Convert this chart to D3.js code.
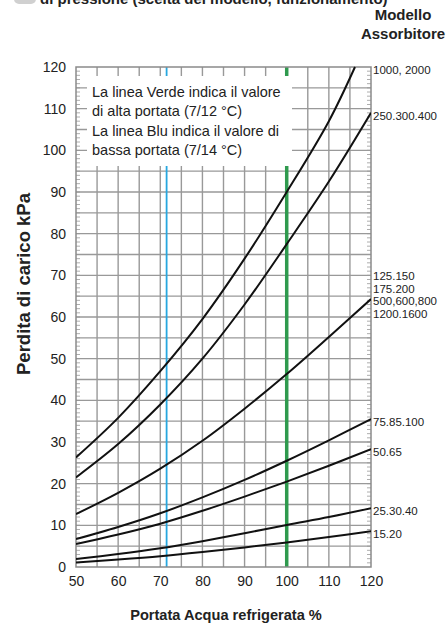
<!DOCTYPE html>
<html><head><meta charset="utf-8">
<script src="https://cdn.jsdelivr.net/npm/d3@7"></script>
<style>
html,body{margin:0;padding:0;background:#fff;}
svg{display:block;font-family:"Liberation Sans",Arial,sans-serif;}
</style></head>
<body><svg id="c" width="446" height="623"></svg>
<script>
// ---- data ----
const flow = [50, 60, 70, 80, 90, 100, 110, 120];
const c1000 = [26.3, 35.8, 47, 59.5, 74, 90, 107];       // ends at 120 kPa near 116%
const c1000End = [116.2, 120];
const c250 = [21.5, 29.5, 39, 50, 63, 77.5, 92.5, 109];
const c125 = [12.7, 17.8, 23.6, 30.3, 38, 46.3, 55.2, 64.3];
const c75 = [6.7, 9.6, 12.9, 16.7, 20.9, 25.5, 30.4, 35.5];
const c50 = [5.5, 7.8, 10.4, 13.5, 16.9, 20.5, 24.3, 28.3];
const c25 = [1.9, 3.1, 4.5, 6.2, 8.1, 10.1, 12.0, 14.1];
const c15 = [1.1, 1.8, 2.6, 3.6, 4.7, 5.9, 7.2, 8.6];
const seriesLabels = [["1000, 2000"], ["250.300.400"], ["125.150", "175.200", "500,600,800", "1200.1600"], ["75.85.100"], ["50.65"], ["25.30.40"], ["15.20"]];
const xTicks = [50, 60, 70, 80, 90, 100, 110, 120];
const yTicks = [0, 10, 20, 30, 40, 50, 60, 70, 80, 90, 100, 110, 120];
const blueFlow = 71.5, greenFlow = 100;
const legendLines = ["La linea Verde indica il valore", "di alta portata (7/12 °C)", "La linea Blu indica il valore di", "bassa portata (7/14 °C)"];
const titleTop = "di pressione (scelta del modello, funzionamento)";
const headerLines = ["Modello", "Assorbitore"];
const yTitle = "Perdita di carico kPa";
const xTitle = "Portata Acqua refrigerata %";

// ---- chart ----
const svg = d3.select("#c");
const L = 76, R = 371, T = 67, B = 567;
const x = d3.scaleLinear().domain([50, 120]).range([L, R]);
const y = d3.scaleLinear().domain([0, 120]).range([B, T]);

// top cut title
svg.append("rect").attr("x", 14).attr("y", -8).attr("width", 22).attr("height", 12).attr("rx", 5).attr("fill", "#d0d0d0");
svg.append("text").attr("x", 40).attr("y", 3.5).attr("font-size", 15).attr("font-weight", "bold").attr("fill", "#222").text(titleTop);
headerLines.forEach((t, i) => svg.append("text").attr("x", 403).attr("y", 20 + i * 19).attr("text-anchor", "middle")
  .attr("font-size", 15).attr("font-weight", "bold").attr("fill", "#222").text(t));

// grid
const g = svg.append("g");
d3.range(55, 120, 5).forEach(v => g.append("line").attr("x1", x(v)).attr("x2", x(v)).attr("y1", T).attr("y2", B)
  .attr("stroke", "#999").attr("stroke-width", 1.4));
d3.range(5, 120, 5).forEach(v => g.append("line").attr("x1", L).attr("x2", R).attr("y1", y(v)).attr("y2", y(v))
  .attr("stroke", "#999").attr("stroke-width", 1.4));
// minor ticks left/right
d3.range(1, 120, 1).forEach(v => {
  g.append("line").attr("x1", L).attr("x2", L + 4).attr("y1", y(v)).attr("y2", y(v)).attr("stroke", "#999").attr("stroke-width", 0.8);
  g.append("line").attr("x1", R - 4).attr("x2", R).attr("y1", y(v)).attr("y2", y(v)).attr("stroke", "#999").attr("stroke-width", 0.8);
});

// reference lines
svg.append("line").attr("x1", x(blueFlow)).attr("x2", x(blueFlow)).attr("y1", T).attr("y2", B)
  .attr("stroke", "#27a7df").attr("stroke-width", 1.8);
svg.append("line").attr("x1", x(greenFlow)).attr("x2", x(greenFlow)).attr("y1", T).attr("y2", B)
  .attr("stroke", "#2f9a4e").attr("stroke-width", 3.5);

// legend box
svg.append("rect").attr("x", 87).attr("y", 76).attr("width", 205).attr("height", 90).attr("fill", "#fff");
legendLines.forEach((t, i) => svg.append("text").attr("x", 92).attr("y", 97 + i * 19.3)
  .attr("font-size", 14.5).attr("fill", "#222").text(t));

// frame
svg.append("rect").attr("x", L).attr("y", T).attr("width", R - L).attr("height", B - T)
  .attr("fill", "none").attr("stroke", "#8a8a8a").attr("stroke-width", 1.5);

// curves
svg.append("clipPath").attr("id", "clip").append("rect").attr("x", L).attr("y", T - 1).attr("width", R - L).attr("height", B - T + 1);
const line = d3.line().x(d => x(d[0])).y(d => y(d[1])).curve(d3.curveCatmullRom.alpha(0.5));
const series = [
  flow.slice(0, c1000.length).map((f, i) => [f, c1000[i]]).concat([c1000End]),
  flow.map((f, i) => [f, c250[i]]),
  flow.map((f, i) => [f, c125[i]]),
  flow.map((f, i) => [f, c75[i]]),
  flow.map((f, i) => [f, c50[i]]),
  flow.map((f, i) => [f, c25[i]]),
  flow.map((f, i) => [f, c15[i]])
];
svg.append("g").attr("clip-path", "url(#clip)").selectAll("path").data(series).join("path")
  .attr("d", line).attr("fill", "none").attr("stroke", "#111").attr("stroke-width", 2);

// right labels
series.forEach((s, i) => {
  const endY = y(s[s.length - 1][1]);
  const labs = seriesLabels[i];
  const base = labs.length > 1 ? endY - 23 : endY + 3;
  labs.forEach((t, j) => svg.append("text").attr("x", 373).attr("y", base + j * 12.6)
    .attr("dy", "0.35em").attr("font-size", 11.5).attr("fill", "#222").text(t));
});

// axes
const ax = svg.append("g").attr("transform", `translate(0,${B})`)
  .call(d3.axisBottom(x).tickValues(xTicks).tickSize(0).tickPadding(9));
ax.select(".domain").remove();
ax.selectAll("text").attr("font-size", 14).attr("fill", "#222").attr("font-family", "Liberation Sans, Arial, sans-serif");
const ay = svg.append("g").attr("transform", `translate(${L},0)`)
  .call(d3.axisLeft(y).tickValues(yTicks).tickSize(0).tickPadding(10));
ay.select(".domain").remove();
ay.selectAll("text").attr("font-size", 14).attr("fill", "#222").attr("font-family", "Liberation Sans, Arial, sans-serif");

// titles
svg.append("text").attr("transform", "translate(30,284) rotate(-90)").attr("text-anchor", "middle")
  .attr("font-size", 18.5).attr("font-weight", "bold").attr("fill", "#222").text(yTitle);
svg.append("text").attr("x", 226).attr("y", 620).attr("text-anchor", "middle")
  .attr("font-size", 14.6).attr("font-weight", "bold").attr("fill", "#222").text(xTitle);
</script></body></html>
